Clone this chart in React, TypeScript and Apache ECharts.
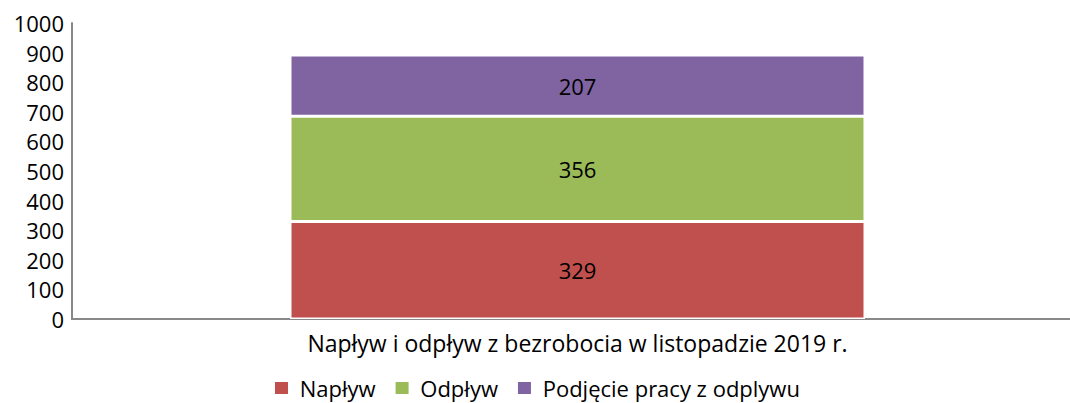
import React, { useEffect, useRef } from "react";
import * as echarts from "echarts";

const categories = ["Napływ i odpływ z bezrobocia w listopadzie 2019 r."];
const seriesNames = ["Napływ", "Odpływ", "Podjęcie pracy z odplywu"];
const naplyw = [329];
const odplyw = [356];
const podjecie = [207];
const colors = ["#C0504D", "#9BBB59", "#8064A2"];
const yTicks = { min: 0, max: 1000, interval: 100 };

const FONT = "'Open Sans', 'Noto Sans', sans-serif";

export default function App() {
  const ref = useRef<HTMLDivElement>(null);
  useEffect(() => {
    if (!ref.current) return;
    const chart = echarts.init(ref.current, null, { renderer: "svg" });
    const values = [naplyw, odplyw, podjecie];
    chart.setOption({
      animation: false,
      textStyle: { fontFamily: FONT },
      grid: { left: 72, top: 23, width: 1011, bottom: 84, containLabel: false, outerBoundsMode: "none" },
      legend: {
        top: 377,
        left: 273,
        padding: 0,
        itemWidth: 15,
        itemHeight: 14,
        itemGap: 18,
        icon: "rect",
        textStyle: { fontSize: 22, color: "#000", fontFamily: FONT, lineHeight: 22 },
        formatter: (n: string) => " " + n,
        data: seriesNames,
      },
      xAxis: {
        type: "category",
        data: categories,
        axisLine: { lineStyle: { color: "#888", width: 2 } },
        axisTick: { show: false },
        axisLabel: { fontSize: 23, color: "#000", margin: 12, fontFamily: FONT },
      },
      yAxis: {
        type: "value",
        min: yTicks.min,
        max: yTicks.max,
        interval: yTicks.interval,
        splitLine: { show: false },
        axisLine: { show: true, lineStyle: { color: "#888", width: 2 } },
        axisTick: { show: false },
        axisLabel: {
          fontSize: 22,
          color: "#000",
          margin: 8,
          fontFamily: FONT,
          formatter: (v: number) => String(v),
        },
      },
      series: seriesNames.map((name, i) => ({
        name,
        type: "bar",
        stack: "total",
        barWidth: 575,
        data: values[i],
        itemStyle: { color: colors[i], borderColor: "#fff", borderWidth: 1.5 },
        label: { show: true, position: "inside", fontSize: 22, color: "#000", fontFamily: FONT },
      })),
    });
    return () => chart.dispose();
  }, []);
  return (
    <div
      ref={ref}
      style={{ position: "fixed", left: 0, top: 0, width: 1070, height: 403, background: "#fff" }}
    />
  );
}
